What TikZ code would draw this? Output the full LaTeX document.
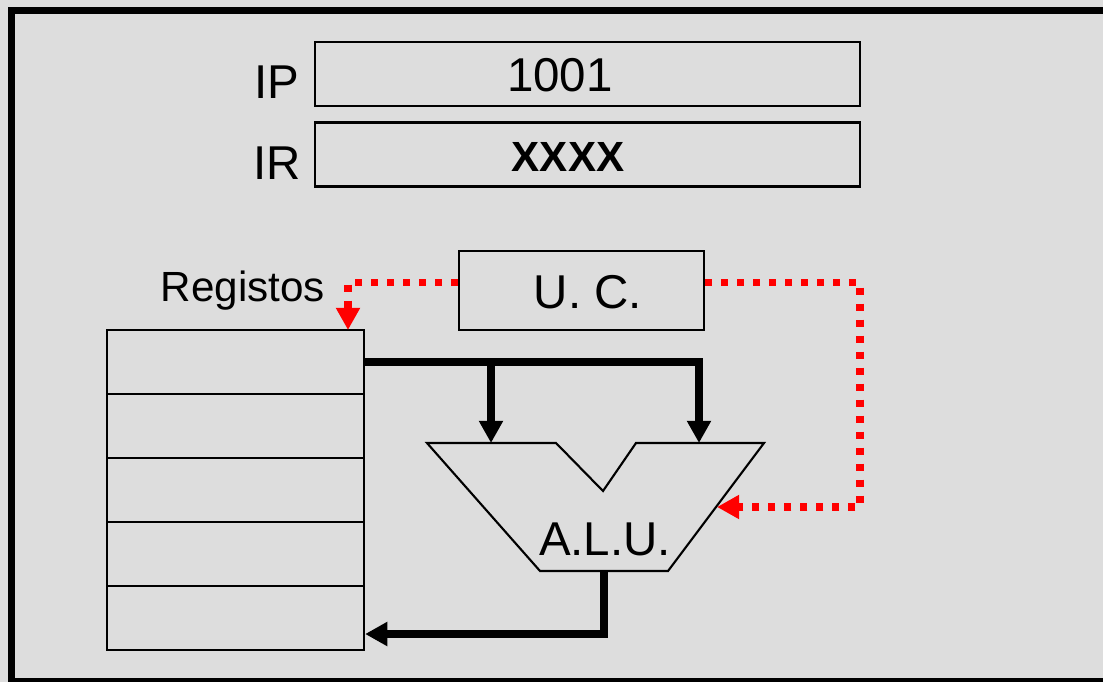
\documentclass[tikz,border=0pt]{standalone}
\usepackage{fontspec}
\setmainfont{Liberation Sans}
\usetikzlibrary{arrows.meta}
\definecolor{panel}{HTML}{DDDDDD}
\definecolor{ctrlred}{HTML}{FF0000}
\begin{document}
\begin{tikzpicture}[
  x=0.01cm, y=-0.01cm,
  regbox/.style={draw, line width=0.6pt, minimum width=5.45cm,
    minimum height=0.64cm, inner sep=0pt},
  cell/.style={draw, line width=0.6pt, minimum width=2.57cm,
    minimum height=0.64cm, inner sep=0pt},
  txt/.style={inner sep=0pt, anchor=base, font=\fontsize{13.5}{16}\selectfont},
  small/.style={inner sep=0pt, anchor=base, font=\fontsize{12}{14}\selectfont},
  bus/.style={line width=2.3pt, -{Triangle[width=6.5pt,length=6.3pt]}},
  ctrl/.style={ctrlred, line width=2pt, dash pattern=on 2pt off 2.55pt,
    -{Triangle[width=6.5pt,length=6.3pt]}}
]
\useasboundingbox (0,0) rectangle (1103,682);
\clip (0,0) rectangle (1103,682);
\fill[panel] (0,0) rectangle (1103,682);
\draw[line width=2pt] (11.5,10.5) rectangle (1120,681.5);

% IP / IR
\node[regbox] (ip) at (587.5,74) {};
\node[regbox] (ir) at (587.5,154.5) {};
\node[txt] (iplbl) at (277,99) {IP};
\node[txt] (irlbl) at (277,180) {IR};
\node[txt] (ipval) at (560,92) {1001};
\node[small, font=\fontsize{12}{14}\selectfont\bfseries] (irval) at (568,172) {XXXX};

% control unit
\node[draw, line width=0.6pt, minimum width=2.45cm, minimum height=0.79cm,
  inner sep=0pt] (uc) at (581.5,290.5) {};
\node[txt] (uctxt) at (588,308) {U. C.};

% register file
\node[small] (reglbl) at (243,301) {Registos};
\node[cell] (r1) at (235.5,362) {};
\node[cell] (r2) at (235.5,426) {};
\node[cell] (r3) at (235.5,490) {};
\node[cell] (r4) at (235.5,554) {};
\node[cell] (r5) at (235.5,618) {};

% ALU
\draw[line width=0.6pt] (427,443) -- (556,443) -- (603,491) -- (636,443)
  -- (764,443) -- (668,571) -- (540,571) -- cycle;
\node[txt] (alu) at (605,555) {A.L.U.};
\coordinate (ain1) at (491,443);
\coordinate (ain2) at (699,443);
\coordinate (aout) at (604,571);
\coordinate (actl) at (717,507);
\coordinate (regin) at (348,330);
\coordinate (ctlturn) at (860,507);

% data paths
\draw[bus] (r1.east) -| (ain2);
\draw[bus] (r1.east -| ain1) -- (ain1);
\draw[bus] (aout) |- ([yshift=-0.16cm]r5.east);

% control lines
\draw[ctrl] ([yshift=0.08cm]uc.west) -| (regin);
\draw[ctrl] ([yshift=0.08cm]uc.east) -| (ctlturn) -- (actl);
\end{tikzpicture}
\end{document}
